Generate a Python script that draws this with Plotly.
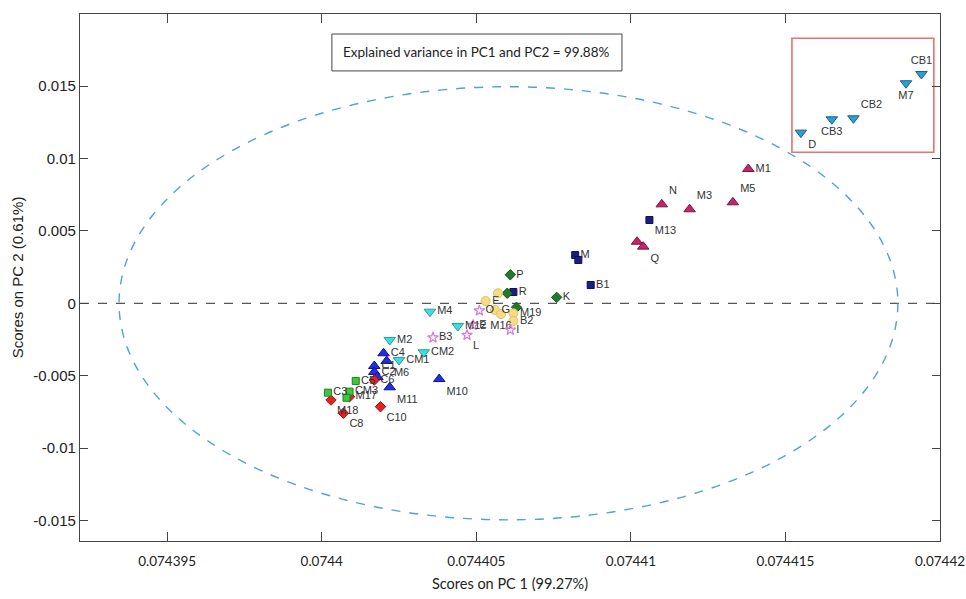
import plotly.graph_objects as go

# ---------------- data ----------------
cb_names = ["CB1", "M7", "CB2", "CB3", "D"]
cb_pc1 = [0.0744194, 0.0744189, 0.0744172, 0.0744165, 0.0744155]
cb_pc2 = [0.01583, 0.01519, 0.01277, 0.01270, 0.01178]

cr_names = ["M1", "N", "M3", "M5", "", "Q"]
cr_pc1 = [0.0744138, 0.0744110, 0.0744119, 0.0744133, 0.0744102, 0.0744104]
cr_pc2 = [0.00927, 0.00683, 0.00649, 0.00697, 0.00425, 0.00391]

nv_names = ["M13", "M", "", "B1", "R"]
nv_pc1 = [0.0744106, 0.0744082, 0.0744083, 0.0744087, 0.0744062]
nv_pc2 = [0.00575, 0.00333, 0.00299, 0.00126, 0.00078]

gd_names = ["P", "", "", "K"]
gd_pc1 = [0.0744061, 0.0744060, 0.0744063, 0.0744076]
gd_pc2 = [0.00197, 0.00069, -0.00028, 0.00041]

yc_names = ["", "F", "G", "M16", "M19", "B2"]
yc_pc1 = [0.0744057, 0.0744053, 0.0744056, 0.0744058, 0.0744062, 0.0744062]
yc_pc2 = [0.00069, 0.00016, -0.00046, -0.00075, -0.00069, -0.00122]

ps_names = ["O", "I", "L", "E", "B3"]
ps_pc1 = [0.0744051, 0.0744061, 0.0744047, 0.0744049, 0.0744036]
ps_pc2 = [-0.00051, -0.00184, -0.00219, -0.00150, -0.00237]

cy_names = ["M4", "M12", "M2", "CM2", "CM1"]
cy_pc1 = [0.0744035, 0.0744044, 0.0744022, 0.0744033, 0.0744025]
cy_pc2 = [-0.00058, -0.00157, -0.00253, -0.00338, -0.00391]

bl_names = ["C4", "M6", "C1", "C2", "", "M11", "M10"]
bl_pc1 = [0.0744020, 0.0744021, 0.0744017, 0.0744017, 0.0744018, 0.0744022, 0.0744038]
bl_pc2 = [-0.00345, -0.00398, -0.00433, -0.00474, -0.00509, -0.00580, -0.00523]

rd_names = ["C6", "M18", "M17", "C8", "C10"]
rd_pc1 = [0.0744017, 0.0744003, 0.0744009, 0.0744007, 0.0744019]
rd_pc2 = [-0.00530, -0.00668, -0.00645, -0.00759, -0.00714]

gs_names = ["C5", "C3", "CM3", ""]
gs_pc1 = [0.0744011, 0.0744002, 0.0744009, 0.0744008]
gs_pc2 = [-0.00536, -0.00617, -0.00610, -0.00652]

x_tickvals = [0.074395, 0.0744, 0.074405, 0.07441, 0.074415, 0.07442]
x_ticktext = ["0.074395", "0.0744", "0.074405", "0.07441", "0.074415", "0.07442"]
y_tickvals = [0.015, 0.01, 0.005, 0, -0.005, -0.01, -0.015]
y_ticktext = ["0.015", "0.01", "0.005", "0", "-0.005", "-0.01", "-0.015"]

# confidence ellipse parameters and highlight box (data units)
ell_cx, ell_cy = 0.07440604, 0.0
ell_a, ell_b = 1.2597e-5, 0.01495
hl_x = [0.07441521, 0.07441980]
hl_y = [0.010425, 0.018296]

x_range = [0.07439218, 0.0744200]
y_range = [-0.01641, 0.01997]

# ---------------- styling ----------------
LABEL_FONT = dict(family="Liberation Sans, Arial", size=11, color="#333333")
NARROW = "Lato"

groups = [
    (cb_names, cb_pc1, cb_pc2, "triangle-down", "#2b9fd6", "#1a5f8a", 10,
     ["top center", "bottom center", "top right", "bottom center", "bottom right"]),
    (cr_names, cr_pc1, cr_pc2, "triangle-up", "#c0286a", "#801040", 10,
     ["middle right", "top right", "top right", "top right", "middle right", "bottom right"]),
    (nv_names, nv_pc1, nv_pc2, "square", "#1c1c86", "#101050", 7,
     ["bottom right", "middle right", "middle right", "middle right", "middle right"]),
    (gd_names, gd_pc1, gd_pc2, "diamond", "#1f7a2a", "#10501a", 8,
     ["middle right", "middle right", "middle right", "middle right"]),
    (yc_names, yc_pc1, yc_pc2, "circle", "#f7dc86", "#e0c060", 9,
     ["middle right", "middle right", "middle right", "bottom center", "middle right", "middle right"]),
    (ps_names, ps_pc1, ps_pc2, "star-open", "#d77ad7", "#d77ad7", 8,
     ["middle right", "middle right", "bottom right", "middle right", "middle right"]),
    (cy_names, cy_pc1, cy_pc2, "triangle-down", "#3fdede", "#20a0a0", 10,
     ["middle right", "middle right", "middle right", "middle right", "middle right"]),
    (bl_names, bl_pc1, bl_pc2, "triangle-up", "#2030e0", "#101090", 10,
     ["middle right", "bottom right", "middle right", "middle right", "middle right", "bottom right", "bottom right"]),
    (rd_names, rd_pc1, rd_pc2, "diamond", "#e52020", "#a01010", 8,
     ["middle right", "bottom right", "middle right", "bottom right", "bottom right"]),
    (gs_names, gs_pc1, gs_pc2, "square", "#3cc83c", "#208020", 7,
     ["middle right", "middle right", "middle right", "middle right"]),
]

fig = go.Figure()

for names, xs, ys, sym, col, edge, size, tpos in groups:
    fig.add_trace(go.Scatter(
        x=xs, y=ys, mode="markers+text", text=names, textposition=tpos,
        textfont=LABEL_FONT,
        marker=dict(symbol=sym, color=col, size=size,
                    line=dict(color=edge, width=1 if "open" not in sym else 1.2)),
        showlegend=False, cliponaxis=False, hoverinfo="skip"))

shapes = [
    # zero line
    dict(type="line", xref="paper", yref="y", x0=0, x1=1, y0=0, y1=0,
         line=dict(color="#555555", width=1.3, dash="dash"), layer="below"),
    # confidence ellipse
    dict(type="circle", xref="x", yref="y",
         x0=ell_cx - ell_a, x1=ell_cx + ell_a, y0=ell_cy - ell_b, y1=ell_cy + ell_b,
         line=dict(color="#4fa3d4", width=1.4, dash="dash"), layer="below"),
    # highlight box
    dict(type="rect", xref="x", yref="y", x0=hl_x[0], x1=hl_x[1], y0=hl_y[0], y1=hl_y[1],
         line=dict(color="#e87070", width=1.6), layer="below"),
    # explained-variance box
    dict(type="rect", xref="paper", yref="paper", x0=0.2929, x1=0.6302, y0=0.892, y1=0.962,
         line=dict(color="#444444", width=1), fillcolor="white", layer="below"),
]

fig.update_layout(
    width=966, height=599,
    margin=dict(l=80, r=26, t=14, b=58, autoexpand=False),
    paper_bgcolor="white", plot_bgcolor="white",
    shapes=shapes,
    annotations=[dict(xref="paper", yref="paper", x=0.4615, y=0.927,
                      text="Explained variance in PC1 and PC2 = 99.88%",
                      showarrow=False, xanchor="center", yanchor="middle",
                      font=dict(family=NARROW, size=13.5, color="#222222"))],
)

fig.update_xaxes(
    range=x_range, tickvals=x_tickvals, ticktext=x_ticktext, automargin=False,
    ticks="inside", ticklen=9, tickcolor="#444444", mirror="ticks",
    showline=True, linecolor="#444444", linewidth=1.2, showgrid=False, zeroline=False,
    ticklabelstandoff=8,
    tickfont=dict(family=NARROW, size=13.5, color="#222222"),
    title=dict(text="Scores on PC 1 (99.27%)", standoff=10,
               font=dict(family=NARROW, size=14.5, color="#222222")),
)
fig.update_yaxes(
    range=y_range, tickvals=y_tickvals, ticktext=y_ticktext, automargin=False,
    ticks="inside", ticklen=8, tickcolor="#444444", mirror="ticks",
    showline=True, linecolor="#444444", linewidth=1.2, showgrid=False, zeroline=False,
    tickfont=dict(family="Liberation Sans, Arial", size=15, color="#222222"),
    title=dict(text="Scores on PC 2 (0.61%)", standoff=6,
               font=dict(family="Liberation Sans, Arial", size=15, color="#222222")),
)

fig.write_html("out.html")
